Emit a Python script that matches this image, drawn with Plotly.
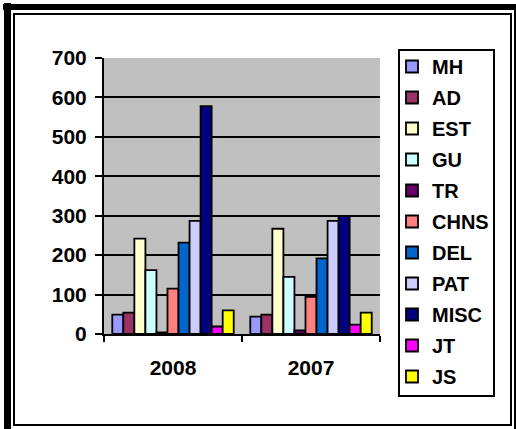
import plotly.graph_objects as go

# --- Data ---
years = ['2008', '2007']
series_names = ['MH', 'AD', 'EST', 'GU', 'TR', 'CHNS', 'DEL', 'PAT', 'MISC', 'JT', 'JS']
values_2008 = [49, 54, 242, 162, 4, 115, 232, 287, 578, 19, 60]
values_2007 = [44, 49, 267, 145, 9, 94, 192, 287, 299, 24, 54]
colors = ['#9999FF', '#993366', '#FFFFCC', '#CCFFFF', '#660066', '#FF8080',
          '#0066CC', '#CCCCFF', '#000080', '#FF00FF', '#FFFF00']

W, H = 516, 429
ML, MR, MT, MB = 104, 136, 58, 95
PW, PH = W - ML - MR, H - MT - MB


# --- Utility: pixel -> paper coords ---
def px_x(p):
    return (p - ML) / PW


def px_y(p):
    return (H - MB - p) / PH


fig = go.Figure()
for i, name in enumerate(series_names):
    fig.add_trace(go.Bar(
        x=years,
        y=[values_2008[i], values_2007[i]],
        name=name,
        legendgroup=name,
        marker=dict(color=colors[i], line=dict(color='black', width=1.8)),
    ))

fam = 'Arial, Liberation Sans, sans-serif'

fig.update_layout(
    width=W, height=H,
    margin=dict(l=ML, r=MR, t=MT, b=MB, autoexpand=False),
    paper_bgcolor='white',
    plot_bgcolor='#C0C0C0',
    barmode='group',
    bargap=0.12,
    bargroupgap=0,
    font=dict(family=fam, size=20, color='black'),
    legend=dict(
        x=px_x(392), y=px_y(47), xanchor='left', yanchor='top',
        bgcolor='rgba(0,0,0,0)', borderwidth=0,
        font=dict(family=fam, size=20, color='black', weight='bold'),
        tracegroupgap=2,
        maxheight=H,
    ),
    xaxis=dict(
        showline=True, linecolor='black', linewidth=2,
        ticks='outside', tickson='boundaries', ticklen=6, tickcolor='black', tickwidth=2,
        tickfont=dict(family=fam, size=21, weight='bold'),
        ticklabelstandoff=14,
        showgrid=False,
    ),
    yaxis=dict(
        range=[0, 700], tickvals=[0, 100, 200, 300, 400, 500, 600, 700],
        showline=True, linecolor='black', linewidth=2,
        ticks='outside', ticklen=7, tickcolor='black', tickwidth=2,
        tickfont=dict(family=fam, size=21, weight='bold'),
        ticklabelstandoff=4,
        showgrid=True, gridcolor='black', gridwidth=1.5,
        zeroline=False,
    ),
)

# legend box
fig.add_shape(type='rect', xref='paper', yref='paper',
              x0=px_x(399), x1=px_x(494), y0=px_y(50), y1=px_y(396),
              line=dict(color='black', width=2), layer='above')

# frame around the chart: thick top/left band, thin right line, inner box
fig.add_shape(type='rect', xref='paper', yref='paper',
              x0=px_x(3), x1=px_x(516), y0=px_y(4), y1=px_y(10),
              fillcolor='black', line_width=0, layer='above')
fig.add_shape(type='rect', xref='paper', yref='paper',
              x0=px_x(4), x1=px_x(11), y0=px_y(3), y1=px_y(429),
              fillcolor='black', line_width=0, layer='above')
fig.add_shape(type='rect', xref='paper', yref='paper',
              x0=px_x(514), x1=px_x(516), y0=px_y(6), y1=px_y(429),
              fillcolor='black', line_width=0, layer='above')
fig.add_shape(type='rect', xref='paper', yref='paper',
              x0=px_x(14), x1=px_x(511), y0=px_y(14), y1=px_y(425),
              line=dict(color='black', width=2), layer='above')

# page has a default 8px body margin; drop it so the figure sits at the window's corner
fig.write_html('out.html', config={'displayModeBar': False},
               post_script="document.body.style.margin='0';")
